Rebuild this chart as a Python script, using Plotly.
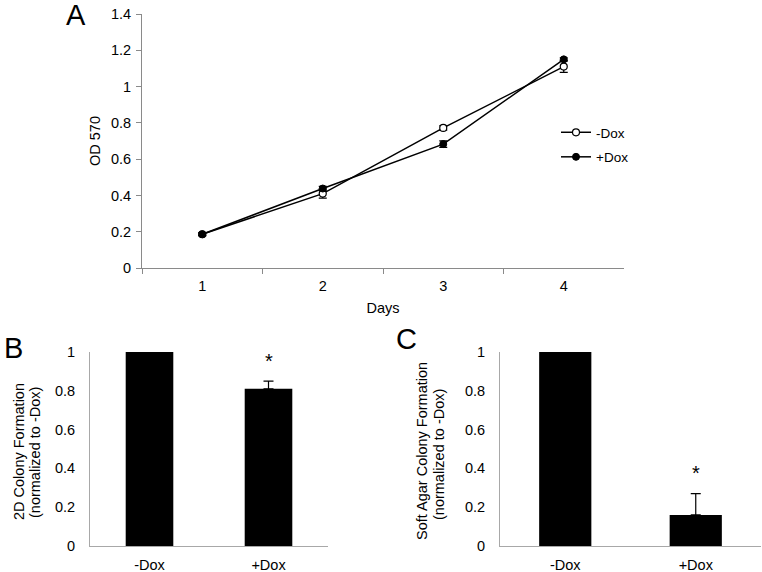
import plotly.graph_objects as go

# ---- Data ----
days = ["1", "2", "3", "4"]
minus_dox_od = [0.186, 0.41, 0.772, 1.11]
minus_dox_err = [0.008, 0.025, 0.012, 0.032]
plus_dox_od = [0.186, 0.438, 0.683, 1.15]
plus_dox_err = [0.008, 0.012, 0.018, 0.008]

bar_groups = ["-Dox", "+Dox"]
colony_2d = [1.0, 0.81]
colony_2d_err = [0.0, 0.04]
soft_agar = [1.0, 0.16]
soft_agar_err = [0.0, 0.11]

W, H = 762, 572
FONT = "Liberation Sans, Arial, sans-serif"
AX = "#8a8a8a"
AX2 = "#a8a8a8"


def px(x):
    return x / W


def py(y):
    return 1 - y / H


fig = go.Figure()

# Panel A
fig.add_trace(go.Scatter(
    x=days, y=minus_dox_od, name="-Dox", mode="lines+markers", legendgroup="m",
    line=dict(color="black", width=1.5),
    marker=dict(symbol="circle", size=7, color="white", line=dict(color="black", width=1.2)),
    error_y=dict(type="data", array=minus_dox_err, color="black", thickness=1.2, width=4),
    xaxis="x", yaxis="y"))
fig.add_trace(go.Scatter(
    x=days, y=plus_dox_od, name="+Dox", mode="lines+markers", legendgroup="p",
    line=dict(color="black", width=1.5),
    marker=dict(symbol="circle", size=7, color="black", line=dict(color="black", width=1)),
    error_y=dict(type="data", array=plus_dox_err, color="black", thickness=1.2, width=4),
    xaxis="x", yaxis="y"))

# Panel B
fig.add_trace(go.Bar(
    x=bar_groups, y=colony_2d, width=0.4, marker=dict(color="black", line=dict(width=0)),
    error_y=dict(type="data", symmetric=False, array=colony_2d_err, arrayminus=[0, 0],
                 color="black", thickness=1.2, width=5),
    showlegend=False, xaxis="x2", yaxis="y2"))

# Panel C
fig.add_trace(go.Bar(
    x=bar_groups, y=soft_agar, width=0.4, marker=dict(color="black", line=dict(width=0)),
    error_y=dict(type="data", symmetric=False, array=soft_agar_err, arrayminus=[0, 0],
                 color="black", thickness=1.2, width=5),
    showlegend=False, xaxis="x3", yaxis="y3"))

tickfont = dict(family=FONT, size=14.5, color="black")

fig.update_layout(
    width=W, height=H,
    margin=dict(l=0, r=0, t=0, b=0, autoexpand=False),
    paper_bgcolor="white", plot_bgcolor="white",
    font=dict(family=FONT, size=14.5, color="black"),
    showlegend=True,
    legend=dict(x=px(556), y=py(117), xanchor="left", yanchor="top",
                font=dict(family=FONT, size=13.5, color="black"),
                bgcolor="rgba(0,0,0,0)", itemwidth=30, tracegroupgap=4),
    xaxis=dict(domain=[px(142), px(624)], type="category", range=[-0.5, 3.5],
               tickson="boundaries",
               ticks="outside", ticklen=5, tickcolor=AX, showline=True, linecolor=AX,
               linewidth=1, showgrid=False, zeroline=False, tickfont=tickfont,
               ticklabelstandoff=5,
               title=dict(text="Days", font=dict(family=FONT, size=14.5), standoff=9),
               anchor="y"),
    yaxis=dict(domain=[py(268), py(14)], range=[0, 1.4], dtick=0.2,
               ticks="outside", ticklen=5, tickcolor=AX, showline=True, linecolor=AX,
               linewidth=1, showgrid=False, zeroline=False, tickfont=tickfont,
               ticklabelstandoff=2,
               title=dict(text="OD 570", font=dict(family=FONT, size=14.5), standoff=6),
               anchor="x"),
    xaxis2=dict(domain=[px(90), px(328)], type="category", ticks="", showline=True,
                linecolor=AX2, linewidth=1, showgrid=False, zeroline=False,
                tickfont=tickfont, ticklabelstandoff=6, anchor="y2"),
    yaxis2=dict(domain=[py(546), py(352)], range=[0, 1], dtick=0.2, ticks="",
                showline=True, linecolor=AX2, linewidth=1, showgrid=False, zeroline=False,
                tickfont=tickfont, ticklabelstandoff=11, anchor="x2"),
    xaxis3=dict(domain=[px(500), px(761)], type="category", ticks="", showline=True,
                linecolor=AX2, linewidth=1, showgrid=False, zeroline=False,
                tickfont=tickfont, ticklabelstandoff=6, anchor="y3"),
    yaxis3=dict(domain=[py(546), py(352)], range=[0, 1], dtick=0.2, ticks="",
                showline=True, linecolor=AX2, linewidth=1, showgrid=False, zeroline=False,
                tickfont=tickfont, ticklabelstandoff=11, anchor="x3"),
)

ann = []
# Panel letters
for txt, x, y in [("A", 76, 15), ("B", 13, 348), ("C", 406, 339)]:
    ann.append(dict(text=txt, x=px(x), y=py(y), xref="paper", yref="paper",
                    showarrow=False, font=dict(family=FONT, size=29, color="black"),
                    xanchor="center", yanchor="middle"))
# Y titles for B and C
for txt, x, y in [("2D Colony Formation", 19, 452), ("(normalized to -Dox)", 35, 453),
                  ("Soft Agar Colony Formation", 422, 451), ("(normalized to -Dox)", 439, 455)]:
    ann.append(dict(text=txt, x=px(x), y=py(y), xref="paper", yref="paper",
                    showarrow=False, textangle=-90, font=dict(family=FONT, size=14.5, color="black"),
                    xanchor="center", yanchor="middle"))
# Significance stars above +Dox bars
ann.append(dict(text="*", x="+Dox", y=colony_2d[1] + colony_2d_err[1], xref="x2", yref="y2",
                yshift=20, showarrow=False, font=dict(family=FONT, size=20, color="black")))
ann.append(dict(text="*", x="+Dox", y=soft_agar[1] + soft_agar_err[1], xref="x3", yref="y3",
                yshift=21, showarrow=False, font=dict(family=FONT, size=20, color="black")))
fig.update_layout(annotations=ann)

# remove the browser's default 8px page margin so the figure sits at the window origin
fig.write_html("out.html", config={"displayModeBar": False},
               post_script="document.body.style.margin='0px';")
